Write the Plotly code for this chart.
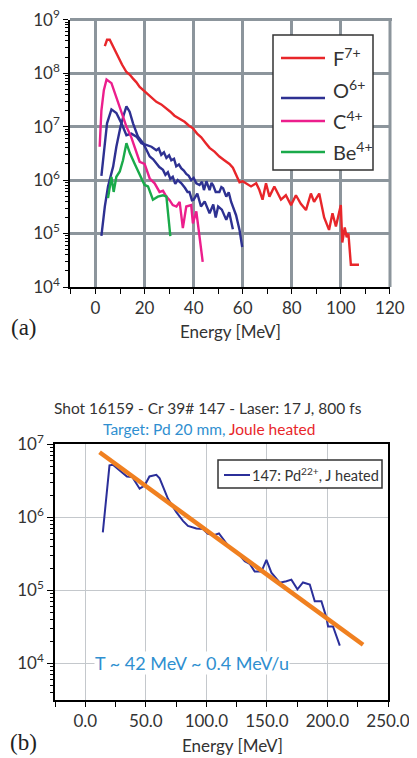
import plotly.graph_objects as go

# ---------------- Panel (a) data ----------------
f7_x = [3.8, 4.7, 5.8, 7.2, 9.2, 10.8, 12.6, 14.0, 15.3, 16.6, 18.0, 19.6, 21.4, 23.0, 24.8, 26.8,
        28.9, 30.5, 32.2, 34.3, 36.3, 38.0, 39.7, 41.4, 43.1, 44.8, 46.5, 48.5, 50.5, 52.5, 54.6, 56.0,
        57.3, 58.7, 60.0, 61.4, 63.4, 65.5, 66.8, 68.1, 69.5, 70.9, 72.9, 75.6, 77.6, 79.7, 81.7,
        83.7, 85.8, 87.8, 89.1, 91.2, 93.2, 95.2, 96.6, 98.0, 100.0, 100.6, 101.6, 102.4, 103.1,
        104.1, 107.4]
f7_y = [3.2e8, 4.2e8, 4.2e8, 3.1e8, 2.0e8, 1.45e8, 1.05e8, 9.3e7, 7.9e7, 6.8e7, 5.5e7, 4.7e7,
        3.9e7, 3.4e7, 2.9e7, 2.6e7, 2.2e7, 1.9e7, 1.6e7, 1.4e7, 1.23e7, 1.05e7, 9.3e6, 7.4e6,
        6.3e6, 5.0e6, 4.0e6, 3.4e6, 2.75e6, 2.35e6, 2.0e6, 1.7e6, 1.3e6, 9.1e5, 9.5e5, 8.7e5,
        7.6e5, 8.7e5, 6.5e5, 4.3e5, 8.7e5, 4.9e5, 7.6e5, 4.3e5, 5.2e5, 3.4e5, 5.2e5, 3.6e5,
        2.75e5, 5.6e5, 3.9e5, 5.6e5, 2.0e5, 1.17e5, 2.4e5, 1.35e5, 3.4e5, 6.8e4, 1.3e5, 8.5e4,
        1.0e5, 2.6e4, 2.6e4]

o6a_x = [2.4, 3.8, 4.7, 6.5, 8.5, 10.6, 12.6, 14.6, 16.7, 18.7, 20.7, 22.8, 24.8, 25.8, 26.8,
         27.9, 28.9, 30.0, 30.9, 32.0, 32.9, 34.0, 35.0, 36.0, 37.0, 38.0, 39.0, 40.0, 41.1,
         42.4, 43.4, 44.2, 45.2, 46.5, 47.3, 48.0, 49.0, 50.5, 51.3, 52.0, 53.3, 54.3, 55.3,
         56.0, 57.3, 58.7, 59.8]
o6a_y = [1.2e6, 5.6e6, 1.15e7, 2.1e7, 1.8e7, 1.15e7, 6.9e6, 7.4e6, 6.5e6, 4.9e6, 4.5e6, 4.2e6,
         3.6e6, 3.9e6, 2.95e6, 3.3e6, 2.6e6, 2.9e6, 2.35e6, 2.5e6, 1.8e6, 1.95e6, 1.65e6,
         1.5e6, 1.3e6, 1.2e6, 1.0e6, 1.1e6, 8.7e5, 8.1e5, 9.3e5, 6.5e5, 9.5e5, 6.5e5, 8.9e5,
         7.9e5, 6.0e5, 6.0e5, 7.4e5, 7.0e5, 4.9e5, 5.9e5, 3.9e5, 3.2e5, 2.2e5, 1.17e5, 5.6e4]

o6b_x = [2.4, 3.8, 5.1, 7.2, 8.5, 9.5, 10.2, 11.5, 12.6, 13.9, 15.3, 17.3, 19.4, 21.0, 22.1,
         23.5, 24.8, 26.0, 27.5, 28.5, 29.5, 30.5, 31.5, 32.5, 33.5, 35.0, 36.5, 37.5, 38.3,
         39.3, 40.0, 41.5, 43.0, 44.5, 46.5, 48.0, 49.0, 50.0, 51.5, 53.3, 54.5, 56.0]
o6b_y = [9.0e4, 3.2e5, 7.6e5, 1.8e6, 4.2e6, 7.1e6, 1.0e7, 1.65e7, 2.4e7, 1.9e7, 1.15e7, 6.5e6,
         4.9e6, 3.5e6, 2.75e6, 2.45e6, 2.0e6, 1.75e6, 1.55e6, 1.25e6, 1.4e6, 1.05e6, 1.15e6,
         8.5e5, 1.0e6, 8.7e5, 7.1e5, 6.0e5, 6.0e5, 4.2e5, 4.3e5, 5.6e5, 3.2e5, 4.0e5, 2.4e5,
         3.5e5, 2.0e5, 3.2e5, 2.8e5, 1.8e5, 2.5e5, 1.2e5]

c4_x = [1.7, 2.4, 3.4, 4.5, 6.5, 8.5, 10.6, 12.6, 14.6, 16.0, 18.0, 20.0, 22.1, 24.1, 26.1,
        27.5, 28.9, 30.2, 31.5, 33.0, 34.3, 35.6, 37.0, 39.0, 39.7, 41.1, 43.7]
c4_y = [4.2e6, 2.0e7, 4.8e7, 7.6e7, 6.5e7, 3.6e7, 1.8e7, 1.0e7, 6.3e6, 4.2e6, 2.2e6, 2.0e6,
        1.07e6, 8.7e5, 6.0e5, 6.3e5, 4.9e5, 4.2e5, 3.4e5, 3.2e5, 3.9e5, 1.26e5, 3.2e5, 3.4e5,
        1.55e5, 2.6e5, 2.95e4]

be4_x = [5.1, 6.5, 7.4, 8.5, 9.9, 11.2, 12.6, 14.0, 16.0, 18.0, 20.0, 21.4, 23.4, 25.4, 27.5,
         28.9, 30.5]
be4_y = [4.6e5, 1.15e6, 6.0e5, 1.15e6, 1.45e6, 2.35e6, 4.9e6, 3.2e6, 2.0e6, 1.3e6, 8.1e5,
         7.6e5, 4.3e5, 4.9e5, 5.2e5, 4.9e5, 8.9e4]

a_series = [
    ("F<sup>7+</sup>", f7_x, f7_y, "#e8262a"),
    ("O<sup>6+</sup>", o6a_x, o6a_y, "#2e3192"),
    ("O<sup>6+</sup>", o6b_x, o6b_y, "#2e3192"),
    ("C<sup>4+</sup>", c4_x, c4_y, "#ec1e8c"),
    ("Be<sup>4+</sup>", be4_x, be4_y, "#1aaa4a"),
]
a_legend = [("F<sup>7+</sup>", "#e8262a"), ("O<sup>6+</sup>", "#2e3192"),
            ("C<sup>4+</sup>", "#ec1e8c"), ("Be<sup>4+</sup>", "#1aaa4a")]
a_xticks = [0, 20, 40, 60, 80, 100, 120]
a_yticks = [1e4, 1e5, 1e6, 1e7, 1e8, 1e9]
a_yticktext = ["10<sup>4</sup>", "10<sup>5</sup>", "10<sup>6</sup>", "10<sup>7</sup>",
               "10<sup>8</sup>", "10<sup>9</sup>"]

# ---------------- Panel (b) data ----------------
pd_x = [14.5, 20.0, 22.8, 29.7, 34.4, 38.8, 44.9, 49.0, 53.0, 58.7, 61.4, 68.3, 75.2, 80.7,
        84.8, 91.7, 97.2, 101.3, 106.9, 110.4, 116.5, 119.3, 126.1, 131.7, 135.8, 139.9, 145.5,
        149.6, 153.7, 160.6, 166.1, 170.2, 175.2, 179.8, 185.4, 189.5, 195.0, 199.2, 200.5,
        204.6, 210.2]
pd_y = [6.2e5, 5.1e6, 5.2e6, 4.2e6, 3.6e6, 3.55e6, 2.45e6, 2.7e6, 3.6e6, 3.8e6, 3.4e6, 1.78e6,
        1.17e6, 8.9e5, 7.6e5, 7.0e5, 6.9e5, 5.9e5, 5.7e5, 6.0e5, 4.5e5, 3.8e5, 3.2e5, 2.5e5,
        2.3e5, 1.8e5, 1.8e5, 2.6e5, 1.74e5, 1.27e5, 1.33e5, 1.4e5, 1.03e5, 1.28e5, 1.2e5,
        7.1e4, 7.1e4, 4.2e4, 3.2e4, 3.2e4, 1.75e4]
fit_x = [11.8, 229.4]
fit_y = [7.7e6, 1.8e4]
b_xticks = [0, 50, 100, 150, 200, 250]
b_yticks = [1e4, 1e5, 1e6, 1e7]
b_yticktext = ["10<sup>4</sup>", "10<sup>5</sup>", "10<sup>6</sup>", "10<sup>7</sup>"]

# The page body has an 8 px margin, so the figure starts 8 px in from the window corner.
W, H, OFF = 417, 758, 8
def px(x):
    return (x - OFF) / W
def py(y):
    return 1 - (y - OFF) / H

FONT = "Lato"
fig = go.Figure()

for name, xs, ys, col in a_series:
    fig.add_trace(go.Scatter(x=xs, y=ys, mode="lines", name=name, showlegend=False,
                             line=dict(color=col, width=2.4), xaxis="x", yaxis="y"))

fig.add_trace(go.Scatter(x=pd_x, y=pd_y, mode="lines", showlegend=False,
                         line=dict(color="#2b2f9a", width=2), xaxis="x2", yaxis="y2"))
fig.add_trace(go.Scatter(x=fit_x, y=fit_y, mode="lines", showlegend=False,
                         line=dict(color="#f08020", width=4.5), xaxis="x2", yaxis="y2"))

def minor_vals(lo, hi):
    v = []
    for e in range(lo, hi):
        for m in range(2, 10):
            v.append(m * 10 ** e)
    return v

grid_a = "#8c959c"
fig.update_layout(
    width=W, height=H, margin=dict(l=0, r=0, t=0, b=0, autoexpand=False),
    paper_bgcolor="white", plot_bgcolor="white",
    font=dict(family=FONT, size=17, color="#333333"),
    xaxis=dict(domain=[px(70), px(390)], range=[-10.4, 120.05], anchor="y", automargin=False,
               ticklabeloverflow="allow",
               tickvals=a_xticks, showgrid=True, gridcolor=grid_a, gridwidth=3,
               showline=True, linecolor="black", linewidth=1.5, zeroline=False,
               ticks="outside", ticklen=5, tickcolor="black",
               minor=dict(tickvals=[-10, 10, 30, 50, 70, 90, 110], ticks="outside",
                          ticklen=5, tickcolor="black", showgrid=False),
               tickfont=dict(size=17, color="#333333")),
    yaxis=dict(domain=[py(287), py(19.5)], type="log", range=[4, 9.003], anchor="x",
               automargin=False, ticklabeloverflow="allow",
               tickvals=a_yticks, ticktext=a_yticktext, showgrid=True, gridcolor=grid_a,
               gridwidth=3, showline=True, linecolor="black", linewidth=1.5,
               ticks="outside", ticklen=5, tickcolor="black",
               minor=dict(tickvals=minor_vals(4, 9), ticks="outside", ticklen=3,
                          tickcolor="black", showgrid=False),
               tickfont=dict(size=17, color="#333333")),
    xaxis2=dict(domain=[px(55), px(388)], range=[-25, 250], anchor="y2", automargin=False,
                ticklabeloverflow="allow",
                tickvals=b_xticks, tickformat=".1f", showgrid=True, gridcolor="#c4c8cc",
                gridwidth=1, showline=True, mirror=True, linecolor="black", linewidth=1.5,
                zeroline=False, ticks="outside", ticklen=5, tickcolor="black",
                minor=dict(tickvals=[-25, 25, 75, 125, 175, 225], ticks="outside",
                           ticklen=5, tickcolor="black", showgrid=False),
                tickfont=dict(size=17, color="#333333")),
    yaxis2=dict(domain=[py(700), py(444)], type="log", range=[3.5, 7], anchor="x2",
                automargin=False, ticklabeloverflow="allow",
                tickvals=b_yticks, ticktext=b_yticktext, showgrid=True, gridcolor="#c4c8cc",
                gridwidth=1, showline=True, mirror=True, linecolor="black", linewidth=1.5,
                ticks="outside", ticklen=6, tickcolor="black",
                minor=dict(tickvals=minor_vals(3, 7), ticks="outside", ticklen=3,
                           tickcolor="black", showgrid=False),
                tickfont=dict(size=17, color="#333333")),
)

# top / right gray frame of panel (a)
fig.add_shape(type="line", xref="paper", yref="paper", x0=px(70), x1=px(392), y0=py(19.5),
              y1=py(19.5), line=dict(color=grid_a, width=3), layer="above")
fig.add_shape(type="line", xref="paper", yref="paper", x0=px(390), x1=px(390), y0=py(19.5),
              y1=py(287), line=dict(color=grid_a, width=3), layer="above")

def note(x, y, text, size, color, family=FONT, xanchor="center", bg=None):
    fig.add_annotation(xref="paper", yref="paper", x=px(x), y=py(y), text=text,
                       showarrow=False, xanchor=xanchor, yanchor="middle",
                       bgcolor=bg, borderpad=0,
                       font=dict(family=family, size=size, color=color))

# legend (a)
fig.add_shape(type="rect", xref="paper", yref="paper", x0=px(273), x1=px(373), y0=py(170),
              y1=py(35), line=dict(color="#333333", width=1.5), fillcolor="white")
leg_line_y = [58, 98, 121, 152]
leg_text_y = [57, 89, 120, 151]
for (name, col), ly, ty in zip(a_legend, leg_line_y, leg_text_y):
    fig.add_shape(type="line", xref="paper", yref="paper", x0=px(281), x1=px(325),
                  y0=py(ly), y1=py(ly), line=dict(color=col, width=2.6))
    note(332, ty, name, 20, "#333333", xanchor="left")

# axis titles and panel labels
note(230, 331, "Energy [MeV]", 17, "#333333")
note(24, 327, "(a)", 23, "#222222", family="Liberation Serif")
note(232, 745, "Energy [MeV]", 17, "#333333")
note(24, 742, "(b)", 23, "#222222", family="Liberation Serif")

# titles (b)
note(208, 408, "Shot 16159 - Cr 39# 147 - Laser: 17 J, 800 fs", 15.5, "#333333")
note(209, 429, "Target: Pd 20 mm, <span style='color:#e8262a'>Joule heated</span>", 15.5,
     "#2f8fd0")

# legend (b)
fig.add_shape(type="rect", xref="paper", yref="paper", x0=px(218), x1=px(382), y0=py(488),
              y1=py(460), line=dict(color="#333333", width=1.5), fillcolor="white")
fig.add_shape(type="line", xref="paper", yref="paper", x0=px(224), x1=px(250), y0=py(475),
              y1=py(475), line=dict(color="#2b2f9a", width=2))
note(251, 474, "147: Pd<sup>22+</sup>, J heated", 14.5, "#333333", xanchor="left")

note(192, 663, "T ~ 42 MeV ~ 0.4 MeV/u", 18, "#2f8fd0", bg="white")

fig.write_html("out.html")
